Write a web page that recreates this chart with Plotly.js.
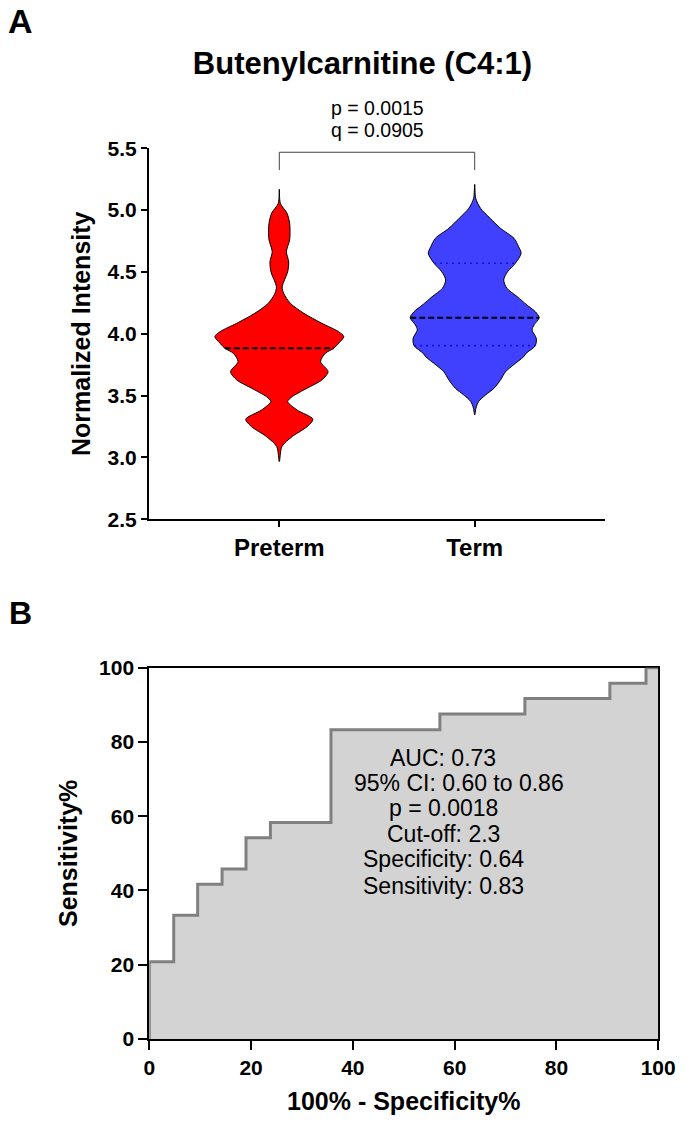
<!DOCTYPE html>
<html>
<head>
<meta charset="utf-8">
<script src="https://cdn.plot.ly/plotly-3.0.1.min.js"></script>
<style>
  html, body { margin: 0; padding: 0; background: #fff; }
  #chart { width: 687px; height: 1132px; }
</style>
</head>
<body>
<div id="chart"></div>
<script>
// ---------- Panel A data: violin density profiles ----------
const categories = ['Preterm', 'Term'];

const pretermLevels  = [5.169, 5.055, 4.975, 4.894, 4.840, 4.759, 4.664, 4.583, 4.502, 4.381, 4.328, 4.247, 4.166, 4.085, 4.017, 3.977, 3.924, 3.883, 3.843, 3.775, 3.694, 3.627, 3.560, 3.492, 3.452, 3.384, 3.309, 3.249, 3.169, 3.088, 2.967];
const pretermDensity = [0,     0.016, 0.12,  0.16,  0.166, 0.16,  0.11,  0.145, 0.13,  0.045, 0.067, 0.17,  0.38,  0.66,  0.92,  1.0,   0.92,  0.845, 0.715, 0.64,  0.756, 0.66,  0.43,  0.2,   0.13,  0.275, 0.52,  0.43,  0.2,   0.04,  0];

const termLevels  = [5.209, 5.096, 5.015, 4.934, 4.853, 4.772, 4.705, 4.651, 4.570, 4.502, 4.435, 4.368, 4.300, 4.233, 4.179, 4.130, 4.072, 4.031, 3.964, 3.904, 3.843, 3.815, 3.748, 3.694, 3.627, 3.560, 3.506, 3.452, 3.400, 3.343];
const termDensity = [0,     0.016, 0.09,  0.24,  0.40,  0.61,  0.68,  0.72,  0.63,  0.51,  0.45,  0.50,  0.66,  0.81,  0.94,  1.0,   0.92,  0.89,  0.955, 0.94,  0.80,  0.76,  0.60,  0.48,  0.40,  0.30,  0.17,  0.06,  0.02,  0];

const medians = [3.883, 4.130];
const termQuartiles = [3.904, 4.570];

const pValueText = 'p = 0.0015';
const qValueText = 'q = 0.0905';
const bracketTop = 5.468;
const bracketLeg = 5.324;

// ---------- Panel B data: ROC curve ----------
const fpr  = [0, 4.8, 9.5, 14.3, 19.0, 23.8, 35.7, 57.1, 73.8, 90.5, 97.6, 100];
const sens = [0, 20.8, 33.3, 41.7, 45.8, 54.2, 58.3, 83.3, 87.5, 91.7, 95.8, 100];
const rocStats = ['AUC: 0.73', '95% CI: 0.60 to 0.86', 'p = 0.0018', 'Cut-off: 2.3', 'Specificity: 0.64', 'Sensitivity: 0.83'];

// ---------- helpers ----------
const W = 687, H = 1132;
const FONT = 'Liberation Sans, Arial, Helvetica, sans-serif';
const px = v => v / W;
const py = v => 1 - v / H;
const HALF = 0.33;

function interp(levels, dens, v) {
  for (let i = 0; i < levels.length - 1; i++) {
    const a = levels[i], b = levels[i + 1];
    if ((v <= a && v >= b)) {
      const t = (a - v) / (a - b);
      return dens[i] + t * (dens[i + 1] - dens[i]);
    }
  }
  return 0;
}

function violinTrace(center, levels, dens, color, name) {
  const xs = [], ys = [];
  for (let i = 0; i < levels.length; i++) { xs.push(center + dens[i] * HALF); ys.push(levels[i]); }
  for (let i = levels.length - 2; i >= 0; i--) { xs.push(center - dens[i] * HALF); ys.push(levels[i]); }
  return {
    type: 'scatter', mode: 'lines', x: xs, y: ys, name: name,
    fill: 'toself', fillcolor: color,
    line: { color: '#000', width: 1, shape: 'spline', smoothing: 0.8 },
    xaxis: 'x', yaxis: 'y', hoverinfo: 'skip', showlegend: false
  };
}

function hLine(center, levels, dens, v, color, dash, width) {
  const hw = interp(levels, dens, v) * HALF;
  return {
    type: 'scatter', mode: 'lines', x: [center - hw, center + hw], y: [v, v],
    line: { color: color, width: width, dash: dash },
    xaxis: 'x', yaxis: 'y', hoverinfo: 'skip', showlegend: false
  };
}

const traces = [
  violinTrace(0, pretermLevels, pretermDensity, '#FF0000', categories[0]),
  violinTrace(1, termLevels, termDensity, '#4040FF', categories[1]),
  hLine(1, termLevels, termDensity, termQuartiles[0], '#1010E0', '2px,4px', 1.6),
  hLine(1, termLevels, termDensity, termQuartiles[1], '#1010E0', '2px,4px', 1.6),
  hLine(0, pretermLevels, pretermDensity, medians[0], '#000', '6px,3px', 2),
  hLine(1, termLevels, termDensity, medians[1], '#000', '6px,3px', 2),
  {
    type: 'scatter', mode: 'lines', x: fpr, y: sens,
    line: { color: '#808080', width: 3, shape: 'vh' },
    fill: 'tozeroy', fillcolor: '#D3D3D3',
    xaxis: 'x2', yaxis: 'y2', hoverinfo: 'skip', showlegend: false
  }
];

const tickFontA = { family: FONT, size: 21, color: '#000', weight: 'bold' };

const statLineY = [757.5, 782.5, 808, 834, 859, 885.5];
const statLineX = [443, 459, 443, 443, 443, 443];

const annotations = [
  { text: 'A', x: px(20), y: py(21), xref: 'paper', yref: 'paper', showarrow: false, xanchor: 'center', yanchor: 'middle',
    font: { family: FONT, size: 34, color: '#000', weight: 'bold' } },
  { text: 'B', x: px(20), y: py(613), xref: 'paper', yref: 'paper', showarrow: false, xanchor: 'center', yanchor: 'middle',
    font: { family: FONT, size: 32, color: '#000', weight: 'bold' } },
  { text: pValueText, x: px(377), y: py(108), xref: 'paper', yref: 'paper', showarrow: false, xanchor: 'center', yanchor: 'middle',
    font: { family: FONT, size: 19.5, color: '#000' } },
  { text: qValueText, x: px(377), y: py(130), xref: 'paper', yref: 'paper', showarrow: false, xanchor: 'center', yanchor: 'middle',
    font: { family: FONT, size: 19.5, color: '#000' } }
];
rocStats.forEach((t, i) => {
  annotations.push({ text: t, x: px(statLineX[i]), y: py(statLineY[i]), xref: 'paper', yref: 'paper', showarrow: false,
    xanchor: 'center', yanchor: 'middle', font: { family: FONT, size: 23, color: '#000' } });
});

const layout = {
  width: W, height: H,
  margin: { l: 0, r: 0, t: 0, b: 0 },
  paper_bgcolor: '#fff', plot_bgcolor: 'rgba(0,0,0,0)',
  showlegend: false,
  font: { family: FONT, color: '#000' },
  title: { text: 'Butenylcarnitine (C4:1)', x: px(362.5), y: py(63), xref: 'paper', yref: 'paper', xanchor: 'center', yanchor: 'middle',
    font: { family: FONT, size: 31, color: '#000', weight: 'bold' } },
  xaxis: {
    domain: [px(149), px(605)], anchor: 'y',
    range: [-0.667, 1.667], tickvals: [0, 1], ticktext: categories,
    showgrid: false, zeroline: false, showline: true, linecolor: '#000', linewidth: 2,
    ticks: 'outside', ticklen: 6, tickwidth: 2, tickcolor: '#000',
    tickfont: { family: FONT, size: 24, color: '#000', weight: 'bold' }, fixedrange: true
  },
  yaxis: {
    domain: [py(519.3), py(148.3)], anchor: 'x',
    range: [2.5, 5.5], tick0: 2.5, dtick: 0.5, tickformat: '.1f',
    showgrid: false, zeroline: false, showline: true, linecolor: '#000', linewidth: 2,
    ticks: 'outside', ticklen: 6, tickwidth: 2, tickcolor: '#000',
    tickfont: tickFontA,
    title: { text: 'Normalized Intensity', standoff: 10, font: { family: FONT, size: 25, color: '#000', weight: 'bold' } },
    fixedrange: true
  },
  xaxis2: {
    domain: [px(149.3), px(658.2)], anchor: 'y2',
    range: [0, 100], tick0: 0, dtick: 20,
    showgrid: false, zeroline: false, showline: true, linecolor: '#000', linewidth: 2, mirror: true,
    layer: 'below traces',
    ticks: 'outside', ticklen: 9, tickwidth: 2, tickcolor: '#000',
    tickfont: { family: FONT, size: 21, color: '#000', weight: 'bold' },
    title: { text: '100% - Specificity%', standoff: 14, font: { family: FONT, size: 25, color: '#000', weight: 'bold' } },
    fixedrange: true
  },
  yaxis2: {
    domain: [py(1039), py(667.7)], anchor: 'x2',
    range: [0, 100], tick0: 0, dtick: 20,
    showgrid: false, zeroline: false, showline: true, linecolor: '#000', linewidth: 2, mirror: true,
    layer: 'below traces',
    ticks: 'outside', ticklen: 9, tickwidth: 2, tickcolor: '#000',
    tickfont: { family: FONT, size: 21, color: '#000', weight: 'bold' },
    title: { text: 'Sensitivity%', standoff: 14, font: { family: FONT, size: 25, color: '#000', weight: 'bold' } },
    fixedrange: true
  },
  shapes: [
    { type: 'path', xref: 'x', yref: 'y',
      path: `M 0 ${bracketLeg} L 0 ${bracketTop} L 1 ${bracketTop} L 1 ${bracketLeg}`,
      line: { color: '#444', width: 1 } }
  ],
  annotations: annotations
};

Plotly.newPlot('chart', traces, layout, { displayModeBar: false, staticPlot: true });
</script>
</body>
</html>
